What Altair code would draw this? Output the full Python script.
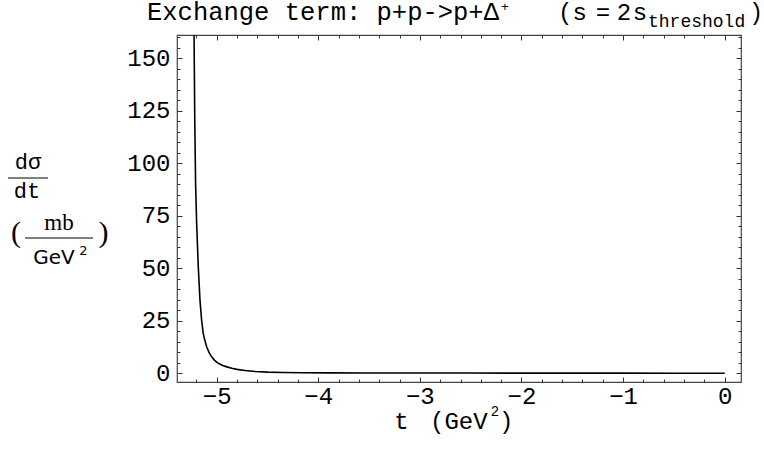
import altair as alt
import pandas as pd

# ---- data ----
T = [-5.226, -5.222, -5.215, -5.207, -5.197, -5.181, -5.164, -5.148, -5.132, -5.115,
     -5.098, -5.075, -5.049, -5.020, -4.984, -4.940, -4.900, -4.850, -4.800, -4.720,
     -4.620, -4.500, -4.350, -4.150, -3.900, -3.500, -3.000, -2.500, -2.000, -1.500,
     -1.000, -0.500, 0.000]
V = [175, 160, 120, 90, 72, 51, 35, 25.4, 19, 15.5,
     12.7, 10, 7.9, 6.2, 4.8, 3.8, 3.1, 2.4, 1.9, 1.35,
     0.9, 0.6, 0.4, 0.3, 0.25, 0.2, 0.17, 0.15, 0.13, 0.12,
     0.11, 0.1, 0.1]

X_MAJOR = [-5, -4, -3, -2, -1, 0]
X_MINOR = [-5.2, -4.8, -4.6, -4.4, -4.2, -3.8, -3.6, -3.4, -3.2, -2.8, -2.6, -2.4,
           -2.2, -1.8, -1.6, -1.4, -1.2, -0.8, -0.6, -0.4, -0.2]
Y_MAJOR = [0, 25, 50, 75, 100, 125, 150]
Y_MINOR = [5, 10, 15, 20, 30, 35, 40, 45, 55, 60, 65, 70, 80, 85, 90, 95,
           105, 110, 115, 120, 130, 135, 140, 145, 155, 160]

TITLE_MAIN = "Exchange term: p+p->p+Δ"
TITLE_SUP = "+"
TITLE_PARTS = ["(s", "=", "2", "s"]
TITLE_SUB = "threshold"
TITLE_END = ")"
YT_NUM = "dσ"
YT_DEN = "dt"
YT_UNIT_NUM = "mb"
YT_UNIT_DEN = "GeV"
YT_SUP = "2"
XT_MAIN = "t"
XT_UNIT = "(GeV"
XT_SUP = "2"
XT_END = ")"

df = pd.DataFrame({"t": T, "v": V})
one = pd.DataFrame({"k": [0]})

W, H = 564, 347
xs = alt.Scale(domain=[-5.39, 0.16], nice=False, zero=False)
ys = alt.Scale(domain=[-4.1, 161.1], nice=False, zero=False)

MONO = "Liberation Mono"
SERIF = "Liberation Serif"
SANS = "DejaVu Sans"
FRAMEC = "#444444"
TICKC = "#333333"


def tick_axis(orient, values, size):
    return alt.Axis(orient=orient, values=values, labels=False, domain=False,
                    grid=False, ticks=True, tickSize=alt.ExprRef(expr=str(-size)),
                    tickColor=TICKC, tickWidth=1, title=None)


main = alt.Chart(df).mark_line(color="black", strokeWidth=1.6, clip=True).encode(
    x=alt.X("t:Q", scale=xs, axis=alt.Axis(
        orient="bottom", values=X_MAJOR, ticks=False, domain=False, grid=False,
        labelFont=MONO, labelFontSize=24, labelColor="black", labelPadding=2,
        labelFlush=False, labelOverlap=False, title=None)),
    y=alt.Y("v:Q", scale=ys, axis=alt.Axis(
        orient="left", values=Y_MAJOR, ticks=False, domain=False, grid=False,
        labelFont=MONO, labelFontSize=24, labelColor="black", labelPadding=7,
        labelFlush=False, labelOverlap=False, title=None)),
)


def ghost(xo, xv, xsz, yo, yv, ysz):
    return alt.Chart(df).mark_line(strokeOpacity=0, clip=True).encode(
        x=alt.X("t:Q", scale=xs, axis=tick_axis(xo, xv, xsz)),
        y=alt.Y("v:Q", scale=ys, axis=tick_axis(yo, yv, ysz)),
    )


g1 = ghost("bottom", X_MAJOR, 5, "left", Y_MAJOR, 5)
g2 = ghost("bottom", X_MINOR, 3, "left", Y_MINOR, 3)
g3 = ghost("top", X_MAJOR, 5, "right", Y_MAJOR, 5)
g4 = ghost("top", X_MINOR, 3, "right", Y_MINOR, 3)


def txt(s, x, y, size, font=MONO, align="left", baseline="alphabetic"):
    return alt.Chart(one).mark_text(
        text=s, font=font, fontSize=size, align=align, baseline=baseline,
        color="black").encode(x=alt.value(x), y=alt.value(y))


def hline(x1, x2, y):
    return alt.Chart(one).mark_rule(color="black", strokeWidth=1).encode(
        x=alt.value(x1), x2=alt.value(x2), y=alt.value(y))


texts = [
    # title
    txt(TITLE_MAIN, -30, -15, 25.5),
    txt(TITLE_SUP, 328, -24, 13, align="center"),
    txt(TITLE_PARTS[0], 381, -15, 24),
    txt(TITLE_PARTS[1], 426, -15, 24, align="center"),
    txt(TITLE_PARTS[2], 447, -15, 24, align="center"),
    txt(TITLE_PARTS[3], 463, -15, 24, align="center"),
    txt(TITLE_SUB, 471, -8, 18),
    txt(TITLE_END, 586, -15, 23, align="right"),
    # y title
    txt(YT_NUM, -149, 134, 22, align="center"),
    hline(-169, -129, 143),
    txt(YT_DEN, -150, 163, 22, align="center"),
    txt("(", -161, 198, 30, font=SERIF, align="center", baseline="middle"),
    txt(YT_UNIT_NUM, -118, 195, 23, font=SERIF, align="center"),
    hline(-152, -84, 203),
    txt(YT_UNIT_DEN, -123, 229, 20, font=SANS, align="center"),
    txt(YT_SUP, -93.5, 220, 13, font=SANS, align="center"),
    txt(")", -73.5, 198, 30, font=SERIF, align="center", baseline="middle"),
    # x title
    txt(XT_MAIN, 224.5, 394, 24, align="center"),
    txt(XT_UNIT, 253, 394, 24),
    txt(XT_SUP, 318, 381, 14, align="center"),
    txt(XT_END, 322, 394, 24),
]

chart = alt.layer(main, g1, g2, g3, g4, *texts).resolve_axis(
    x="independent", y="independent"
).properties(
    width=W, height=H,
    autosize=alt.AutoSizeParams(type="none"),
    padding={"left": 177, "top": 35, "right": 23, "bottom": 70},
).configure_view(stroke=FRAMEC, strokeWidth=1.2)

chart.save("out.html", embed_options={"renderer": "svg", "actions": False})
